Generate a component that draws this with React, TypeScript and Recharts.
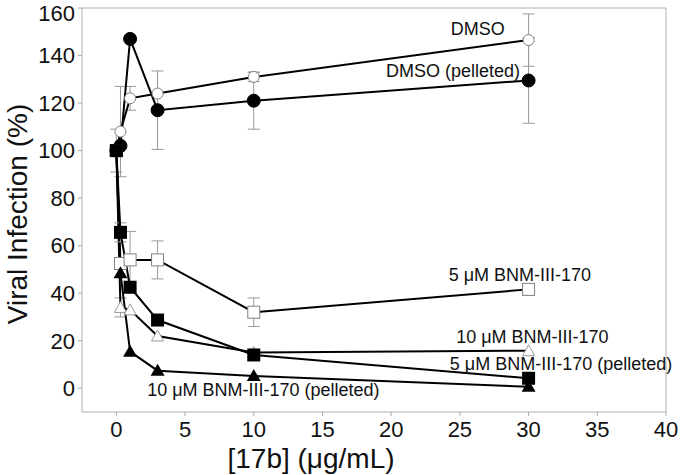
import React from 'react';
import { LineChart, Line, XAxis, YAxis, ErrorBar, ReferenceArea, ReferenceDot, Label } from 'recharts';

const concentrations = [0, 0.3, 1, 3, 10, 30];

const dmso = [100, 108, 122, 124, 131, 146.5];
const dmsoErr = [0, 19, 5, 0, 2, 11];
const dmsoPelleted = [100, 102, 147, 117, 121, 129.5];
const dmsoPelletedErr = [9, 0, 0, 16.5, 12, 18];
const bnm5 = [100, 52.5, 54, 54, 32, 41.6];
const bnm5Err = [0, 0, 12, 8, 6, 0];
const bnm10 = [100, 34, 33, 22, 15, 15.8];
const bnm10Err = [0, 4, 0, 0, 0, 0];
const bnm10Pelleted = [100, 48.4, 15.4, 7.4, 5.1, 0.6];
const bnm10PelletedErr = [0, 0, 0, 0, 0, 0];
const bnm5Pelleted = [100, 65.6, 42.5, 28.7, 14, 4.2];
const bnm5PelletedErr = [0, 4, 0, 0, 0, 0];

const xTicks = [0, 5, 10, 15, 20, 25, 30, 35, 40];
const yTicks = [0, 20, 40, 60, 80, 100, 120, 140, 160];

const annotationTexts = [
  'DMSO',
  'DMSO (pelleted)',
  '5 \u03bcM BNM-III-170',
  '10 \u03bcM BNM-III-170',
  '5 \u03bcM BNM-III-170 (pelleted)',
  '10 \u03bcM BNM-III-170 (pelleted)',
];
const annotationX = [26.3, 24.5, 29.37, 30.28, 32.36, 10.7];
const annotationY = [151, 133.3, 47.7, 21.7, 10, -0.7];

const build = (vals: number[], errs: number[]) =>
  concentrations.map((x, i) => ({ x, y: vals[i], err: errs[i] || null }));

const FONT = '"Liberation Sans", Arial, Helvetica, sans-serif';

type Kind = 'openCircle' | 'filledCircle' | 'openSquare' | 'filledSquare' | 'openTriangle' | 'filledTriangle';

const makeDot = (kind: Kind) => (p: any) => {
  const { cx, cy, index } = p;
  const key = `${kind}-${index}`;
  if (cx == null || cy == null) return <g key={key} />;
  switch (kind) {
    case 'openCircle':
      return <circle key={key} cx={cx} cy={cy} r={5.5} fill="#fff" stroke="#808080" strokeWidth={1} />;
    case 'filledCircle':
      return <circle key={key} cx={cx} cy={cy} r={6.5} fill="#000" stroke="#000" />;
    case 'openSquare':
      return <rect key={key} x={cx - 6} y={cy - 6} width={12} height={12} fill="#fff" stroke="#808080" strokeWidth={1} />;
    case 'filledSquare':
      return <rect key={key} x={cx - 6.5} y={cy - 6.5} width={13} height={13} fill="#000" />;
    case 'openTriangle':
      return (
        <polygon key={key} points={`${cx},${cy - 6} ${cx - 6},${cy + 5} ${cx + 6},${cy + 5}`} fill="#fff" stroke="#999" strokeWidth={1} />
      );
    case 'filledTriangle':
    default:
      return (
        <polygon key={key} points={`${cx},${cy - 7} ${cx - 7},${cy + 5} ${cx + 7},${cy + 5}`} fill="#000" />
      );
  }
};

const seriesList: { name: string; vals: number[]; errs: number[]; kind: Kind }[] = [
  { name: 'DMSO', vals: dmso, errs: dmsoErr, kind: 'openCircle' },
  { name: 'DMSO (pelleted)', vals: dmsoPelleted, errs: dmsoPelletedErr, kind: 'filledCircle' },
  { name: '5 uM', vals: bnm5, errs: bnm5Err, kind: 'openSquare' },
  { name: '10 uM', vals: bnm10, errs: bnm10Err, kind: 'openTriangle' },
  { name: '10 uM pelleted', vals: bnm10Pelleted, errs: bnm10PelletedErr, kind: 'filledTriangle' },
  { name: '5 uM pelleted', vals: bnm5Pelleted, errs: bnm5PelletedErr, kind: 'filledSquare' },
];

export default function App() {
  return (
    <div style={{ position: 'absolute', left: 0, top: 0, background: '#fff' }}>
      <LineChart width={680} height={475} margin={{ top: 8, right: 14, bottom: 0, left: 0 }}>
        <ReferenceArea x1={-2.5} x2={40} y1={-10} y2={160} fill="none" fillOpacity={0} stroke="#b0b0b0" strokeWidth={1} />
        <XAxis
          dataKey="x"
          type="number"
          domain={[-2.5, 40]}
          ticks={xTicks}
          allowDataOverflow
          height={63}
          axisLine={false}
          tickSize={4}
          tickMargin={5}
          tickLine={{ stroke: '#aaa' }}
          tick={{ fontSize: 22, fill: '#111', fontFamily: FONT }}
        >
          <Label
            content={() => (
              <text x={311} y={458} textAnchor="middle" dominantBaseline="central" fontSize={28} fill="#111" fontFamily={FONT}>
                [17b] (μg/mL)
              </text>
            )}
          />
        </XAxis>
        <YAxis
          type="number"
          domain={[-10, 160]}
          ticks={yTicks}
          allowDataOverflow
          width={82}
          axisLine={false}
          tickSize={4}
          tickMargin={3}
          tickLine={{ stroke: '#aaa' }}
          tick={{ fontSize: 22, fill: '#111', fontFamily: FONT }}
        >
          <Label
            content={() => (
              <text
                x={17}
                y={214}
                transform="rotate(-90 17 214)"
                textAnchor="middle"
                dominantBaseline="central"
                fontSize={28}
                fill="#111"
                fontFamily={FONT}
              >
                Viral Infection (%)
              </text>
            )}
          />
        </YAxis>
        {seriesList.map((s) => (
          <Line
            key={s.name}
            data={build(s.vals, s.errs)}
            dataKey="y"
            type="linear"
            stroke="#000"
            strokeWidth={2}
            dot={makeDot(s.kind)}
            activeDot={false}
            isAnimationActive={false}
          >
            <ErrorBar dataKey="err" width={6} stroke="#999" strokeWidth={1} direction="y" />
          </Line>
        ))}
        {annotationTexts.map((t, i) => (
          <ReferenceDot
            key={t}
            x={annotationX[i]}
            y={annotationY[i]}
            r={0}
            ifOverflow="visible"
            shape={(p: any) => (
              <text x={p.cx} y={p.cy} textAnchor="middle" dominantBaseline="central" fontSize={18} fill="#111" fontFamily={FONT}>
                {t}
              </text>
            )}
          />
        ))}
      </LineChart>
    </div>
  );
}
